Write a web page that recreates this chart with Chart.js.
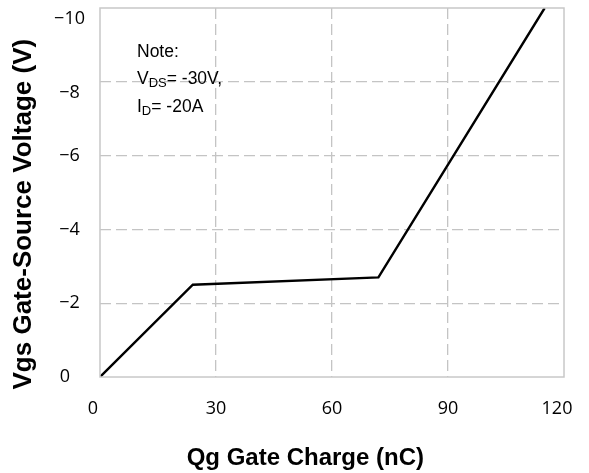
<!DOCTYPE html>
<html>
<head>
<meta charset="utf-8">
<script src="https://cdn.jsdelivr.net/npm/chart.js@4"></script>
<style>
  body { margin: 0; background: #fff; }
  #wrap { width: 589px; height: 473px; }
</style>
</head>
<body>
<div id="wrap"><canvas id="gateChart"></canvas></div>
<script>
// --- Data ---
const chargeNc = [0, 24, 72, 115];
const gateVolts = [0, -2.5, -2.7, -10];
const xTicks = [0, 30, 60, 90, 120];
const yTicks = [0, -2, -4, -6, -8, -10];

const gridGray = '#c4c4c4';
const nbsp = (n) => '\u00A0'.repeat(n);

// keep label overhang from pushing the plot area around
function noPad(scale) {
    scale.paddingTop = 0;
    scale.paddingBottom = 0;
    scale.paddingLeft = 0;
    scale.paddingRight = 0;
}

// x labels: the end ones sit a little inward in the original
function xLabel(v) {
    if (v === 0) return '0' + nbsp(3);
    if (v === 120) return '120' + nbsp(3);
    return String(v);
}

// y labels: minus sign, top two pushed down a line-half like the original
function yLabel(v) {
    if (v === 0) return '0' + nbsp(2);
    const txt = '\u2212' + Math.abs(v);
    if (v <= -8) return ['', txt];
    return txt;
}

// draws the light gray box round the plot and the note text
const boxAndNote = {
    id: 'boxAndNote',
    afterDraw(chart) {
        const { ctx, chartArea: a } = chart;
        ctx.save();
        ctx.strokeStyle = '#c8c8c8';
        ctx.lineWidth = 1.5;
        ctx.strokeRect(a.left, a.top, a.right - a.left, a.bottom - a.top);

        ctx.fillStyle = '#000';
        ctx.textBaseline = 'alphabetic';
        ctx.textAlign = 'left';
        const x0 = a.left + 37;
        const big = '17.5px "Liberation Sans", Arial, sans-serif';
        const small = '13px "Liberation Sans", Arial, sans-serif';

        ctx.font = big;
        ctx.fillText('Note:', x0, a.top + 49);

        // V_DS line
        let x = x0;
        let y = a.top + 76;
        ctx.fillText('V', x, y);
        x += ctx.measureText('V').width;
        ctx.font = small;
        ctx.fillText('DS', x, y + 3);
        x += ctx.measureText('DS').width;
        ctx.font = big;
        ctx.fillText('= -30V,', x, y);

        // I_D line
        x = x0;
        y = a.top + 104;
        ctx.fillText('I', x, y);
        x += ctx.measureText('I').width;
        ctx.font = small;
        ctx.fillText('D', x, y + 3);
        x += ctx.measureText('D').width;
        ctx.font = big;
        ctx.fillText('= -20A', x, y);
        ctx.restore();
    }
};

Chart.defaults.font.family = '"Open Sans", sans-serif';
Chart.defaults.color = '#000';

const ctx = document.getElementById('gateChart').getContext('2d');
new Chart(ctx, {
    type: 'scatter',
    data: {
        datasets: [{
            data: chargeNc.map((q, i) => ({ x: q, y: gateVolts[i] })),
            showLine: true,
            borderColor: '#000',
            borderWidth: 2.4,
            pointRadius: 0,
            tension: 0
        }]
    },
    options: {
        responsive: true,
        maintainAspectRatio: false,
        animation: false,
        layout: { padding: { left: 0, right: 25, top: 8, bottom: 0 } },
        plugins: {
            legend: { display: false },
            tooltip: { enabled: false }
        },
        scales: {
            x: {
                type: 'linear',
                min: xTicks[0],
                max: xTicks[xTicks.length - 1],
                afterBuildTicks: (scale) => { scale.ticks = xTicks.map(v => ({ value: v })); },
                afterFit: (scale) => { scale.height = 96; noPad(scale); },
                ticks: { font: { size: 18 }, padding: 21, callback: xLabel },
                grid: {
                    drawTicks: false,
                    lineWidth: 1.3,
                    color: (c) => (c.tick && (c.tick.value === 0 || c.tick.value === 120)) ? 'rgba(0,0,0,0)' : gridGray
                },
                border: { display: false, dash: [11, 5] },
                title: {
                    display: true,
                    text: 'Qg Gate Charge (nC)' + nbsp(8),
                    font: { family: '"Liberation Sans", Arial, sans-serif', size: 24, weight: 'bold' },
                    padding: { top: 0, bottom: 0 }
                }
            },
            y: {
                type: 'linear',
                min: -10,
                max: 0,
                reverse: true,
                afterBuildTicks: (scale) => { scale.ticks = yTicks.map(v => ({ value: v })); },
                afterFit: (scale) => { scale.width = 100; noPad(scale); },
                ticks: {
                    font: { size: 18 },
                    padding: 15,
                    crossAlign: 'center',
                    callback: yLabel
                },
                grid: {
                    drawTicks: false,
                    lineWidth: 1.3,
                    color: (c) => (c.tick && (c.tick.value === 0 || c.tick.value === -10)) ? 'rgba(0,0,0,0)' : gridGray
                },
                border: { display: false, dash: [11, 5] },
                title: {
                    display: true,
                    text: 'Vgs Gate-Source Voltage (V)' + nbsp(6),
                    font: { family: '"Liberation Sans", Arial, sans-serif', size: 26, weight: 'bold' },
                    padding: { top: 8, bottom: 0 }
                }
            }
        }
    },
    plugins: [boxAndNote]
});
</script>
</body>
</html>
